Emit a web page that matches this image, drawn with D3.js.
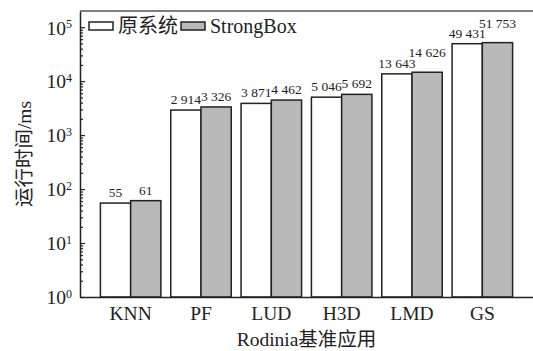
<!DOCTYPE html>
<html>
<head>
<meta charset="utf-8">
<script src="https://d3js.org/d3.v7.min.js"></script>
<style>
    body { margin: 0; background: #fff; }
    svg { display: block; }
    text { font-family: "Liberation Serif", "Times New Roman", "Noto Sans CJK SC", serif; fill: #222; }
</style>
</head>
<body>
<div id="chart"></div>
<script>
// ─── data ───────────────────────────────────────────────────────────────
const categories = ['KNN', 'PF', 'LUD', 'H3D', 'LMD', 'GS'];
const seriesNames = ['原系统', 'StrongBox'];
const original = [55, 2914, 3871, 5046, 13643, 49431];
const strongBox = [61, 3326, 4462, 5692, 14626, 51753];
const yMajorTicks = [1, 10, 100, 1000, 10000, 100000];
const yTickExponents = ['0', '1', '2', '3', '4', '5'];

const fills = ['#ffffff', '#b9b9b9'];
const ink = '#222';

// ─── layout ─────────────────────────────────────────────────────────────
const width = 533, height = 351;
const margin = { top: 11, right: 0, bottom: 54, left: 80 };
const plotBottom = height - margin.bottom;

const svg = d3.select('#chart')
    .append('svg')
    .attr('width', width)
    .attr('height', height);

const x = d3.scaleBand()
    .domain(categories)
    .range([margin.left, width - margin.right])
    .paddingInner(0.14)
    .paddingOuter(0.29);

const xInner = d3.scaleBand()
    .domain(seriesNames)
    .range([0, x.bandwidth()]);

const y = d3.scaleLog()
    .domain([1, Math.pow(10, 5.3)])
    .range([plotBottom, margin.top]);

// minor ticks 2..9 in each decade
const yMinorTicks = [];
yMajorTicks.slice(0, -1).forEach(d => {
    for (let m = 2; m <= 9; m++) yMinorTicks.push(d * m);
});

// ─── bars ───────────────────────────────────────────────────────────────
const rows = categories.map((c, i) => ({ cat: c, values: [original[i], strongBox[i]] }));

const groups = svg.append('g')
    .selectAll('g')
    .data(rows)
    .join('g')
    .attr('transform', d => `translate(${x(d.cat)},0)`);

groups.selectAll('rect')
    .data(d => d.values.map((v, k) => ({ v, k })))
    .join('rect')
    .attr('x', d => xInner(seriesNames[d.k]))
    .attr('y', d => y(d.v))
    .attr('width', xInner.bandwidth())
    .attr('height', d => plotBottom - y(d.v))
    .attr('fill', d => fills[d.k])
    .attr('stroke', ink)
    .attr('stroke-width', 1.5);

// value labels, thousands grouped with a space
const fmt = v => d3.format(',')(v).replace(/,/g, ' ');

groups.each(function (d) {
    const g = d3.select(this);
    const labels = d.values.map((v, k) => g.append('text')
        .attr('x', xInner(seriesNames[k]) + xInner.bandwidth() / 2)
        .attr('y', y(v) - 6)
        .attr('text-anchor', 'middle')
        .attr('font-size', 13.5)
        .text(fmt(v)));
    // lift the right label when the pair would collide
    const b0 = labels[0].node().getBBox();
    const b1 = labels[1].node().getBBox();
    if (b0.x + b0.width > b1.x + 1) {
        labels[1].attr('y', +labels[1].attr('y') - 9);
    }
});

// ─── axes ───────────────────────────────────────────────────────────────
const yAxis = svg.append('g')
    .attr('transform', `translate(${margin.left},0)`)
    .call(d3.axisLeft(y)
        .tickValues(yMajorTicks)
        .tickSizeInner(-5)
        .tickSizeOuter(0)
        .tickPadding(8)
        .tickFormat(() => ''));

yAxis.selectAll('.tick text')
    .attr('font-size', 19.5)
    .attr('dy', '0.35em')
    .each(function (d, i) {
        const t = d3.select(this);
        t.append('tspan').text('10');
        t.append('tspan')
            .attr('font-size', 12)
            .attr('dy', '-0.55em')
            .text(yTickExponents[i]);
    });

svg.append('g')
    .attr('transform', `translate(${margin.left},0)`)
    .call(d3.axisLeft(y)
        .tickValues(yMinorTicks)
        .tickSizeInner(-3)
        .tickSizeOuter(0)
        .tickFormat(''))
    .call(g => g.select('.domain').remove());

const xAxis = svg.append('g')
    .attr('transform', `translate(0,${plotBottom})`)
    .call(d3.axisBottom(x).tickSize(0).tickPadding(9));

xAxis.selectAll('.tick text').attr('font-size', 19.5);

svg.selectAll('.domain').attr('stroke', ink).attr('stroke-width', 1.5);
svg.selectAll('.tick line').attr('stroke', ink).attr('stroke-width', 1.2);

// top frame line
svg.append('line')
    .attr('x1', margin.left).attr('x2', width)
    .attr('y1', margin.top).attr('y2', margin.top)
    .attr('stroke', '#555')
    .attr('stroke-width', 1.5);

// ─── titles ─────────────────────────────────────────────────────────────
svg.append('text')
    .attr('transform', `translate(24,${(margin.top + plotBottom) / 2}) rotate(-90)`)
    .attr('dy', '0.35em')
    .attr('text-anchor', 'middle')
    .attr('font-size', 19.5)
    .text('运行时间/ms');

svg.append('text')
    .attr('x', (margin.left + width) / 2)
    .attr('y', 346)
    .attr('text-anchor', 'middle')
    .attr('font-size', 19.5)
    .text('Rodinia基准应用');

// ─── legend ─────────────────────────────────────────────────────────────
const legendX = [89, 181];
const legend = svg.append('g')
    .selectAll('g')
    .data(seriesNames)
    .join('g')
    .attr('transform', (d, i) => `translate(${legendX[i]},22)`);

legend.append('rect')
    .attr('width', 24)
    .attr('height', 8)
    .attr('fill', (d, i) => fills[i])
    .attr('stroke', ink)
    .attr('stroke-width', 1.5);

legend.append('text')
    .attr('x', 29)
    .attr('y', 4)
    .attr('dy', '0.35em')
    .attr('font-size', 20)
    .text(d => d);
</script>
</body>
</html>
